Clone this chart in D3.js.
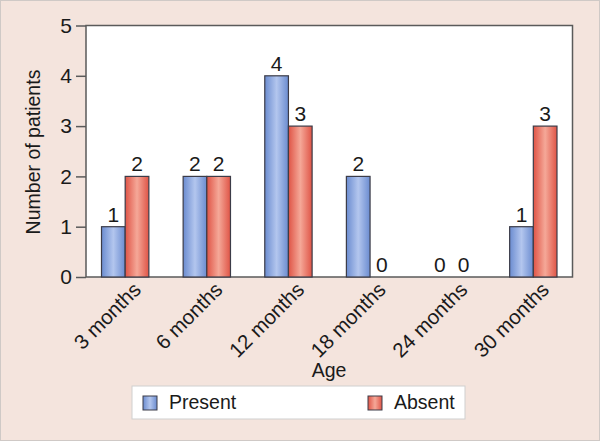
<!DOCTYPE html>
<html>
<head>
<meta charset="utf-8">
<script src="https://cdn.jsdelivr.net/npm/d3@7"></script>
<style>
body{margin:0;background:#f4e4dd}
svg{display:block;font-family:"Liberation Sans",Arial,sans-serif}
</style>
</head>
<body>
<svg id="chart" width="600" height="441"></svg>
<script>
var ages=["3 months","6 months","12 months","18 months","24 months","30 months"]
var series=["Present","Absent"]
var present=[1,2,4,2,0,1]
var absent=[2,2,3,0,0,3]
var yTicks=[0,1,2,3,4,5]

var svg=d3.select("#chart")
var m={l:86,r:572.5,t:25.5,b:277}

// page frame
svg.append("rect").attr("x",0.5).attr("y",0.5).attr("width",599).attr("height",440)
  .attr("fill","#f4e4dd").attr("stroke","#cfc9c6")

var defs=svg.append("defs")
var grads={Present:["#6b8cd0","#b3c6ee"],Absent:["#df5446","#f5a898"]}
series.forEach(function(s){
  var g=defs.append("linearGradient").attr("id","g"+s).attr("x1","0").attr("x2","1").attr("y1","0").attr("y2","0")
  g.append("stop").attr("offset","0%").attr("stop-color",grads[s][0])
  g.append("stop").attr("offset","50%").attr("stop-color",grads[s][1])
  g.append("stop").attr("offset","100%").attr("stop-color",grads[s][0])
})

var x0=d3.scaleBand().domain(ages).range([m.l,m.r]).paddingInner(0.42).paddingOuter(0.19)
var x1=d3.scaleBand().domain(series).range([0,x0.bandwidth()])
var y=d3.scaleLinear().domain([0,5]).range([m.b,m.t])

svg.append("rect").attr("x",m.l).attr("y",m.t).attr("width",m.r-m.l).attr("height",m.b-m.t)
  .attr("fill","#fff").attr("stroke","#5a5a5a").attr("stroke-width",1.5)

var rows=ages.map(function(a,i){return {age:a,vals:[{s:"Present",v:present[i]},{s:"Absent",v:absent[i]}]}})

var grp=svg.selectAll(".grp").data(rows).enter().append("g")
  .attr("transform",function(d){return "translate("+x0(d.age)+",0)"})

grp.selectAll("rect").data(function(d){return d.vals.filter(function(e){return e.v>0})}).enter().append("rect")
  .attr("x",function(d){return x1(d.s)})
  .attr("y",function(d){return y(d.v)})
  .attr("width",x1.bandwidth())
  .attr("height",function(d){return y(0)-y(d.v)})
  .attr("fill",function(d){return "url(#g"+d.s+")"})
  .attr("stroke","#3c3c48").attr("stroke-width",1.2)

grp.selectAll("text").data(function(d){return d.vals}).enter().append("text")
  .attr("x",function(d){return x1(d.s)+x1.bandwidth()/2})
  .attr("y",function(d){return y(d.v)-5})
  .attr("text-anchor","middle").attr("font-size",21).attr("fill","#1a1a1a")
  .text(function(d){return d.v})

// y axis
var yAxis=d3.axisLeft(y).tickValues(yTicks).tickSize(10).tickPadding(4).tickFormat(d3.format("d"))
var ya=svg.append("g").attr("transform","translate("+m.l+",0)").call(yAxis)
ya.select(".domain").remove()
ya.selectAll("line").attr("stroke","#5a5a5a").attr("stroke-width",1.5)
ya.selectAll("text").attr("font-size",21).attr("fill","#1a1a1a").attr("font-family","Liberation Sans, Arial, sans-serif")

// x axis labels
var xa=svg.append("g").attr("transform","translate(0,"+m.b+")").call(d3.axisBottom(x0).tickSize(0))
xa.select(".domain").remove()
xa.selectAll("text").attr("font-size",20.5).attr("fill","#1a1a1a").attr("font-family","Liberation Sans, Arial, sans-serif")
  .attr("text-anchor","end").attr("dy",0).attr("y",0)
  .attr("transform","translate(17,14) rotate(-45)")

svg.append("text").attr("transform","translate(40,152) rotate(-90)").attr("text-anchor","middle")
  .attr("font-size",19.5).attr("fill","#1a1a1a").text("Number of patients")
svg.append("text").attr("x",329).attr("y",377).attr("text-anchor","middle")
  .attr("font-size",19.5).attr("fill","#1a1a1a").text("Age")

// legend
var lg=svg.append("g")
lg.append("rect").attr("x",132).attr("y",386).attr("width",333).attr("height",33)
  .attr("fill","#fff").attr("stroke","#cfcfcf")
var lx=[143,368]
series.forEach(function(s,i){
  lg.append("rect").attr("x",lx[i]).attr("y",396).attr("width",14).attr("height",14)
    .attr("fill","url(#g"+s+")").attr("stroke","#3c3c48")
  lg.append("text").attr("x",lx[i]+26).attr("y",409).attr("font-size",19.5).attr("fill","#1a1a1a").text(s)
})
</script>
</body>
</html>
